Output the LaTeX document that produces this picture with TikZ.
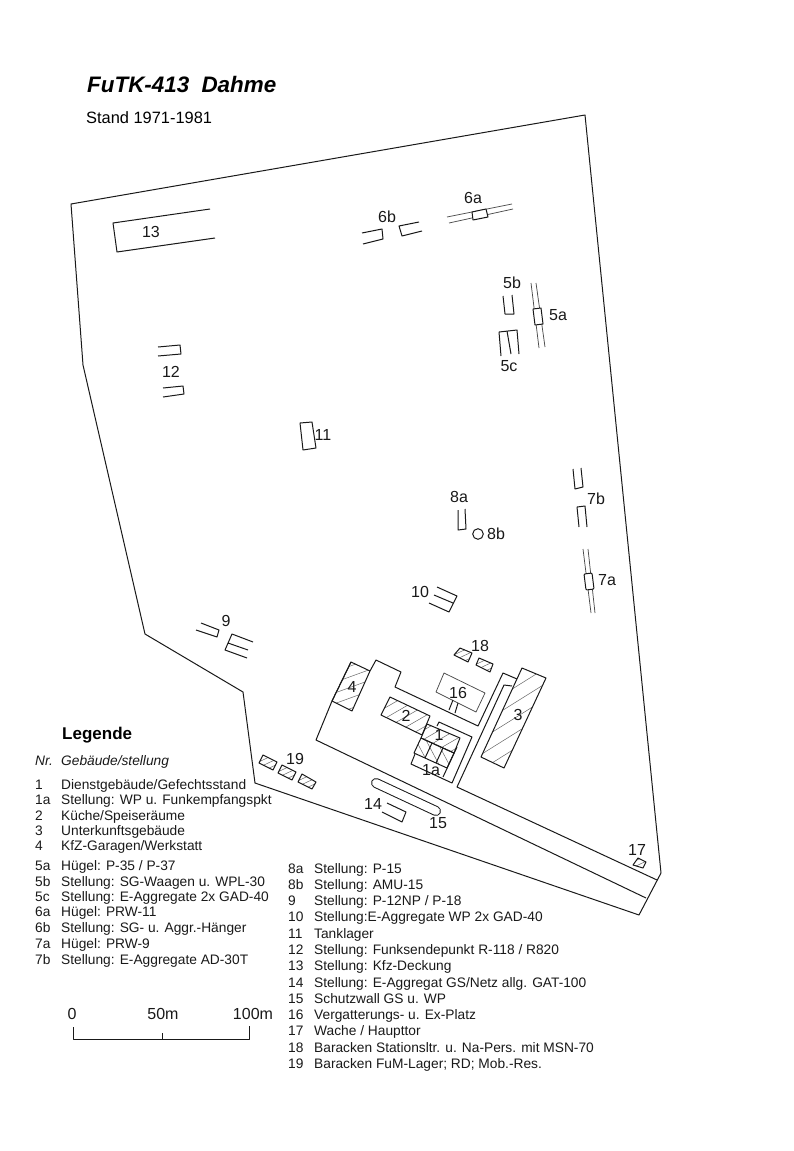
\documentclass[tikz,border=0pt]{standalone}
\usepackage{fontspec}
\setmainfont{Liberation Sans}
\tikzset{
  ln/.style={line width=1pt,black!90,line join=round},
  thin ln/.style={line width=0.75pt,black!70,line join=round},
  hatchline/.style={line width=0.5pt,black!60},
  lab/.style={font=\fontsize{16}{16}\selectfont,inner sep=0pt,text=black!90},
  row/.style={font=\fontsize{13.75}{13.75}\selectfont,inner sep=0pt,anchor=base west,text=black!90},
  rowi/.style={font=\fontsize{13.75}{13.75}\selectfont\itshape,inner sep=0pt,anchor=base west,text=black!90}
}
% polygon, centre x, centre y, angle, spacing
\newcommand\hatched[5]{%
  \begin{scope}
    \clip #1;
    \begin{scope}[shift={(#2,#3)},rotate=#4]
      \foreach \k in {-10,...,10} \draw[hatchline] (-90,\k*#5+1)--(90,\k*#5+1);
    \end{scope}
  \end{scope}
  \draw[ln] #1;}
\begin{document}
\begin{tikzpicture}[x=1pt,y=-1pt]
\useasboundingbox (0,0) rectangle (794,1151);
% outer boundary
\draw[ln] (71,204)--(585,115)--(661,873)--(639,915)--(255,783)--(243,692)--(145,634)--(83,365)--cycle;
% roads / compound
\draw[ln] (351,662)--(332,701)--(316,740)--(646,898);
\draw[ln] (370,671)--(376,660)--(401,672)--(395,687)--(478,726)--(503,673)--(517,679);
\draw[ln] (512,686)--(504,685)--(457,787)--(657,880);
% 1a compound
\draw[ln] (437,726)--(439,722)--(472,737)--(452,783)--(411,764)--(415,754);
\draw[ln] (457,747)--(443,777);
% buildings
\hatched{(351,662)--(370,671)--(352,711)--(332,701)--cycle}{351}{686}{20}{10}
\hatched{(522,668)--(546,678)--(504,768)--(481,757)--cycle}{513}{718}{32}{13}
\hatched{(390,697)--(430,716)--(422,735)--(381,715)--cycle}{405}{716}{30}{9}
\hatched{(427,724)--(460,738)--(454,753)--(421,738)--cycle}{440}{738}{30}{8}
\hatched{(421,738)--(454,753)--(447,768)--(414,753)--cycle}{434}{753}{-62}{9}
\draw[ln] (432,743)--(425,758) (443,748)--(436,763);
% 16
\draw[thin ln] (444,673)--(485,693)--(476,712)--(436,692)--cycle;
\draw[ln] (453,700)--(449,710) (458,703)--(455,713);
% 18
\hatched{(460,648)--(472,653)--(468,662)--(454,655)--cycle}{463}{655}{25}{5}
\hatched{(479,658)--(493,664)--(490,672)--(476,665)--cycle}{484}{665}{25}{5}
% 19
\hatched{(263,755)--(277,762)--(273,770)--(259,763)--cycle}{268}{762}{25}{5}
\hatched{(282,765)--(296,772)--(292,780)--(278,773)--cycle}{287}{772}{25}{5}
\hatched{(302,774)--(316,782)--(312,789)--(298,782)--cycle}{307}{781}{25}{5}
% 17
\hatched{(638,858)--(646,862)--(643,868)--(633,865)--cycle}{640}{863}{25}{5}
% 14, 15
\draw[ln] (387,803)--(406,812)--(402,822)--(382,812);
\draw[line width=1pt,black!90,double=white,double distance=8pt,line cap=round] (376,783)--(436,811);
% 13
\draw[ln] (210,209)--(113,223)--(117,252)--(215,238);
% 6b
\draw[ln] (362,233)--(382,229)--(383,239)--(363,244);
\draw[ln] (419,222)--(399,226)--(402,236)--(422,231);
% 6a
\draw[thin ln] (447,217)--(512,204) (449,223)--(513,209);
\draw[ln,fill=white] (472,212)--(486,209)--(488,217)--(473,220)--cycle;
% 5a
\draw[thin ln] (531,283)--(539,348) (536,283)--(545,347);
\draw[ln,fill=white] (533,309)--(541,308)--(543,324)--(535,325)--cycle;
% 5b, 5c
\draw[ln] (503,296)--(505,314)--(514,314)--(512,295);
\draw[ln] (501,356)--(499,332)--(517,330)--(519,354) (511,354)--(507,331);
% 7
\draw[ln] (573,469)--(575,489)--(583,487)--(581,468);
\draw[ln] (579,527)--(577,507)--(585,506)--(587,527);
\draw[thin ln] (583,549)--(591,613) (588,549)--(595,613);
\draw[ln,fill=white,rounded corners=1pt] (584,574)--(592,573)--(594,589)--(586,590)--cycle;
% 8
\draw[ln] (458,510)--(458,530)--(466,529)--(465,509);
\draw[ln] (478,534) circle[radius=5.3];
% 10
\draw[ln] (437,587)--(457,596)--(449,612)--(429,603) (434,595)--(453,603);
% 9
\draw[ln] (201,623)--(219,630)--(217,637)--(196,630);
\draw[ln] (253,642)--(232,634)--(225,650)--(247,658) (228,643)--(248,650);
% 12
\draw[ln] (158,347)--(180,345)--(181,354)--(158,356);
\draw[ln] (163,388)--(183,386)--(184,394)--(163,397);
% 11
\draw[ln] (300,423)--(312,422)--(316,448)--(303,450)--cycle;
% scale
\draw[ln] (73,1027)--(73,1039)--(249,1039)--(249,1026) (162,1033)--(162,1039);
% map labels
\node[lab] (m1) at (439,735) {1};
\node[lab] (m1a) at (431,770) {1a};
\node[lab] (m2) at (406,716) {2};
\node[lab] (m3) at (518,715) {3};
\node[lab] (m4) at (352,687) {4};
\node[lab] (m5a) at (558,315) {5a};
\node[lab] (m5b) at (512,283) {5b};
\node[lab] (m5c) at (509,366) {5c};
\node[lab] (m6a) at (473,198) {6a};
\node[lab] (m6b) at (387,217) {6b};
\node[lab] (m7a) at (607,580) {7a};
\node[lab] (m7b) at (596,499) {7b};
\node[lab] (m8a) at (459,497) {8a};
\node[lab] (m8b) at (496,534) {8b};
\node[lab] (m9) at (226,621) {9};
\node[lab] (m10) at (420,592) {10};
\node[lab] (m11) at (323,435) {11};
\node[lab] (m12) at (171,372) {12};
\node[lab] (m13) at (151,232) {13};
\node[lab] (m14) at (373,804) {14};
\node[lab] (m15) at (438,823) {15};
\node[lab] (m16) at (458,693) {16};
\node[lab] (m17) at (637,850) {17};
\node[lab] (m18) at (480,646) {18};
\node[lab] (m19) at (295,759) {19};
% title
\node[inner sep=0pt,anchor=base west,font=\fontsize{22.4}{22.4}\selectfont\bfseries\itshape] (title) at (87,92.5) {FuTK-413\hspace{.55em}Dahme};
\node[inner sep=0pt,anchor=base west,font=\fontsize{16.4}{16.4}\selectfont] (stand) at (86,123) {Stand 1971-1981};
\node[inner sep=0pt,anchor=base west,font=\fontsize{17}{17}\selectfont\bfseries] (leg) at (62,739) {Legende};
\node[rowi] (hn) at (35,765) {Nr.};
\node[rowi] (ht) at (61,765) {Gebäude/stellung};
% legend col 1
\node[row] (a1) at (35,789) {1}; \node[row] (b1) at (61,789) {Dienstgebäude/Gefechtsstand};
\node[row] (a2) at (35,804) {1a}; \node[row] (b2) at (61,804) {Stellung: WP u. Funkempfangspkt};
\node[row] (a3) at (35,820) {2}; \node[row] (b3) at (61,820) {Küche/Speiseräume};
\node[row] (a4) at (35,835) {3}; \node[row] (b4) at (61,835) {Unterkunftsgebäude};
\node[row] (a5) at (35,850) {4}; \node[row] (b5) at (61,850) {KfZ-Garagen/Werkstatt};
\node[row] (a6) at (35,870) {5a}; \node[row] (b6) at (61,870) {Hügel: P-35 / P-37};
\node[row] (a7) at (35,886) {5b}; \node[row] (b7) at (61,886) {Stellung: SG-Waagen u. WPL-30};
\node[row] (a8) at (35,901) {5c}; \node[row] (b8) at (61,901) {Stellung: E-Aggregate 2x GAD-40};
\node[row] (a9) at (35,916) {6a}; \node[row] (b9) at (61,916) {Hügel: PRW-11};
\node[row] (a10) at (35,932) {6b}; \node[row] (b10) at (61,932) {Stellung: SG- u. Aggr.-Hänger};
\node[row] (a11) at (35,948) {7a}; \node[row] (b11) at (61,948) {Hügel: PRW-9};
\node[row] (a12) at (35,964) {7b}; \node[row] (b12) at (61,964) {Stellung: E-Aggregate AD-30T};
% legend col 2
\node[row] (c1) at (288,873) {8a}; \node[row] (d1) at (314,873) {Stellung: P-15};
\node[row] (c2) at (288,889) {8b}; \node[row] (d2) at (314,889) {Stellung: AMU-15};
\node[row] (c3) at (288,905) {9}; \node[row] (d3) at (314,905) {Stellung: P-12NP / P-18};
\node[row] (c4) at (288,921) {10}; \node[row] (d4) at (314,921) {Stellung:E-Aggregate WP 2x GAD-40};
\node[row] (c5) at (288,938) {11}; \node[row] (d5) at (314,938) {Tanklager};
\node[row] (c6) at (288,954) {12}; \node[row] (d6) at (314,954) {Stellung: Funksendepunkt R-118 / R820};
\node[row] (c7) at (288,970) {13}; \node[row] (d7) at (314,970) {Stellung: Kfz-Deckung};
\node[row] (c8) at (288,987) {14}; \node[row] (d8) at (314,987) {Stellung: E-Aggregat GS/Netz allg. GAT-100};
\node[row] (c9) at (288,1003) {15}; \node[row] (d9) at (314,1003) {Schutzwall GS u. WP};
\node[row] (c10) at (288,1019) {16}; \node[row] (d10) at (314,1019) {Vergatterungs- u. Ex-Platz};
\node[row] (c11) at (288,1035) {17}; \node[row] (d11) at (314,1035) {Wache / Haupttor};
\node[row] (c12) at (288,1052) {18}; \node[row] (d12) at (314,1052) {Baracken Stationsltr. u. Na-Pers. mit MSN-70};
\node[row] (c13) at (288,1068) {19}; \node[row] (d13) at (314,1068) {Baracken FuM-Lager; RD; Mob.-Res.};
% scale labels
\node[lab] (s0) at (72,1014) {0};
\node[lab] (s50) at (163,1014) {50m};
\node[lab] (s100) at (253,1014) {100m};
\end{tikzpicture}
\end{document}
